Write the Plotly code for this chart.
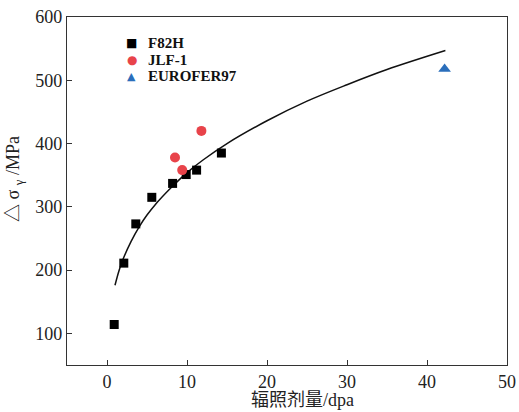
import plotly.graph_objects as go

# Data
f82h_x = [0.9, 2.1, 3.6, 5.6, 8.2, 9.9, 11.2, 14.3]
f82h_y = [114, 211, 273, 315, 337, 351, 358, 385]
jlf_x = [8.5, 9.4, 11.8]
jlf_y = [378, 358, 420]
euro_x = [42.2]
euro_y = [518]
fit_x = [1, 1.5, 2, 3, 4, 5, 6, 8, 10, 12, 15, 20, 25, 30, 35, 42.3]
fit_y = [176, 199, 217, 245, 268, 287, 303, 330, 354, 374, 400, 436, 467, 493, 517, 547]

x_ticks = [0, 10, 20, 30, 40, 50]
y_ticks = [100, 200, 300, 400, 500, 600]

series_names = ["F82H", "JLF-1", "EUROFER97"]
series_colors = ["#000000", "#e8434a", "#2a6ebb"]
series_glyphs = ["■", "●", "▲"]

SERIF = "Liberation Serif, Times New Roman, Noto Sans CJK SC, serif"

fig = go.Figure()
fig.add_trace(go.Scatter(x=fit_x, y=fit_y, mode="lines", line=dict(color="#111111", width=1.5),
                         line_shape="spline", showlegend=False, hoverinfo="skip"))
fig.add_trace(go.Scatter(x=f82h_x, y=f82h_y, mode="markers", name=series_names[0], showlegend=False,
                         marker=dict(symbol="square", size=9, color=series_colors[0])))
fig.add_trace(go.Scatter(x=jlf_x, y=jlf_y, mode="markers", name=series_names[1], showlegend=False,
                         marker=dict(symbol="circle", size=10, color=series_colors[1])))
fig.add_trace(go.Scatter(x=euro_x, y=euro_y, mode="markers", name=series_names[2], showlegend=False,
                         marker=dict(symbol="triangle-up", size=11, color=series_colors[2])))

axis_common = dict(showgrid=False, zeroline=False, showline=True, linecolor="#333333",
                   linewidth=1.3, mirror=True, ticks="inside", ticklen=5, tickwidth=1,
                   tickcolor="#333333", automargin=False,
                   tickfont=dict(family=SERIF, size=18, color="#222222"))

fig.update_xaxes(range=[-5, 50], tickvals=x_ticks, **axis_common)
fig.update_yaxes(range=[50, 600], tickvals=y_ticks, **axis_common)

annotations = [
    dict(text="辐照剂量/dpa", xref="paper", yref="paper", x=0.535, y=-0.1006,
         xanchor="center", yanchor="middle", showarrow=False,
         font=dict(family=SERIF, size=18, color="#222222")),
    dict(text="△ σ <sub>γ</sub> /MPa",
         xref="paper", yref="paper", x=-0.118, y=0.535,
         xanchor="center", yanchor="middle", showarrow=False, textangle=-90,
         font=dict(family=SERIF, size=18, color="#222222")),
]
legend_rows_y = [0.925, 0.877, 0.830]
for name, color, glyph, yy in zip(series_names, series_colors, series_glyphs, legend_rows_y):
    annotations.append(dict(text=glyph, xref="paper", yref="paper", x=0.147, y=yy,
                            xanchor="center", yanchor="middle", showarrow=False,
                            font=dict(family="DejaVu Sans", size=12 if glyph != "▲" else 11, color=color)))
    annotations.append(dict(text=name, xref="paper", yref="paper", x=0.1795, y=yy,
                            xanchor="left", yanchor="middle", showarrow=False,
                            font=dict(family="Liberation Serif", size=15, color="#111111", weight="bold")))

fig.update_layout(
    width=519, height=412,
    margin=dict(l=67, r=12, t=17, b=47),
    paper_bgcolor="white", plot_bgcolor="white",
    showlegend=False,
    annotations=annotations,
)

fig.write_html("out.html")
